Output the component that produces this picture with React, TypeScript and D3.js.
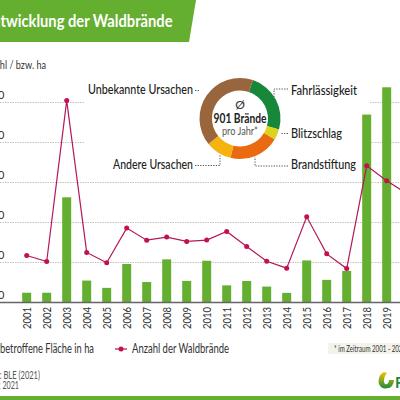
import * as d3 from 'd3';
import { useEffect, useRef } from 'react';

const years = ['2001', '2002', '2003', '2004', '2005', '2006', '2007', '2008', '2009', '2010', '2011', '2012', '2013', '2014', '2015', '2016', '2017', '2018', '2019', '2020'];
// betroffene Fläche in ha
const flaeche = [122, 122, 1315, 274, 183, 482, 256, 539, 270, 522, 214, 269, 199, 120, 526, 283, 395, 2349, 2690, 368];
// Anzahl der Waldbrände
const anzahl = [587, 513, 2524, 626, 496, 930, 779, 818, 763, 780, 888, 701, 515, 429, 1071, 608, 424, 1708, 1523, 1360];
const yTicks = [0, 500, 1000, 1500, 2000, 2500];

const ursachen = ['Fahrlässigkeit', 'Blitzschlag', 'Brandstiftung', 'Andere Ursachen', 'Unbekannte Ursachen'];
const anteile = [24.2, 4.3, 20.1, 10.4, 41];
const ursachenFarben = ['#17873a', '#dcd31c', '#e96a10', '#f6b30e', '#99653c'];

const FONT = 'Lato, sans-serif';
const GREEN = '#64ae30';
const PINK = '#b3185c';
const TEXT = '#333';

export default function App() {
  const svgRef = useRef<SVGSVGElement | null>(null);

  useEffect(() => {
    if (!svgRef.current) return;
    const svg = d3.select(svgRef.current);
    svg.selectAll('*').remove();
    svg.attr('font-family', FONT);

    const x = d3.scalePoint<string>().domain(years).range([26.7, 406.7]);
    const y = d3.scaleLinear().domain([0, 2500]).range([302.5, 102.5]);

    // schmale Schrift gibt es nicht, also auf die Breite im Original stauchen
    const label = (
      parent: d3.Selection<any, any, any, any>,
      str: string, px: number, py: number, size: number, width: number,
      opts: { anchor?: string; fill?: string; weight?: number } = {},
    ) =>
      parent.append('text')
        .attr('x', px).attr('y', py)
        .attr('text-anchor', opts.anchor ?? 'start')
        .attr('fill', opts.fill ?? TEXT)
        .attr('font-size', size)
        .attr('font-weight', opts.weight ?? 400)
        .attr('textLength', width)
        .attr('lengthAdjust', 'spacingAndGlyphs')
        .text(str);

    // Kopfzeile
    svg.append('path').attr('d', 'M0,0H196L189,42H0Z').attr('fill', GREEN);
    label(svg, 'Entwicklung der Waldbrände', -16, 27, 16.5, 188.5, { fill: '#fff', weight: 700 });
    svg.append('rect').attr('x', 0).attr('y', 396).attr('width', 400).attr('height', 4).attr('fill', GREEN);

    label(svg, 'Anzahl / bzw. ha', -20, 69, 11.5, 66);

    // Gitterlinien, oben nur links und rechts vom Kreisdiagramm
    const grid = svg.append('g')
      .attr('stroke', '#bdbdb8')
      .attr('stroke-width', 0.9)
      .attr('stroke-dasharray', '1.5 1');
    yTicks.filter(t => t > 0).forEach(t => {
      if (t >= 2000) {
        grid.append('line').attr('x1', 0).attr('x2', 84).attr('y1', y(t)).attr('y2', y(t));
        grid.append('line').attr('x1', 370).attr('x2', 400).attr('y1', y(t)).attr('y2', y(t));
      } else {
        grid.append('line').attr('x1', 0).attr('x2', 400).attr('y1', y(t)).attr('y2', y(t));
      }
    });

    svg.append('g')
      .selectAll('text')
      .data(yTicks)
      .join('text')
      .attr('x', 4.5)
      .attr('y', d => y(d) - 4)
      .attr('text-anchor', 'end')
      .attr('fill', TEXT)
      .attr('font-size', 11)
      .text(d => d3.format(',')(d).replace(',', '.'));

    // Balken
    svg.append('g')
      .attr('fill', GREEN)
      .selectAll('rect')
      .data(flaeche)
      .join('rect')
      .attr('x', (_, i) => x(years[i])! - 4.5)
      .attr('width', 9)
      .attr('y', d => y(d))
      .attr('height', d => y(0) - y(d));

    svg.append('line').attr('x1', 0).attr('x2', 400).attr('y1', y(0)).attr('y2', y(0))
      .attr('stroke', '#666').attr('stroke-width', 1.3);

    // Linie
    const line = d3.line<number>().x((_, i) => x(years[i])!).y(d => y(d));
    svg.append('path').attr('d', line(anzahl)).attr('fill', 'none').attr('stroke', PINK).attr('stroke-width', 1.2);
    svg.append('g')
      .attr('fill', '#c4104f')
      .selectAll('circle')
      .data(anzahl)
      .join('circle')
      .attr('cx', (_, i) => x(years[i])!)
      .attr('cy', d => y(d))
      .attr('r', 2.5);

    // Jahre
    svg.append('g')
      .selectAll('text')
      .data(years)
      .join('text')
      .attr('transform', d => `translate(${x(d)! + 4},307) rotate(-90)`)
      .attr('text-anchor', 'end')
      .attr('fill', TEXT)
      .attr('font-size', 11.5)
      .attr('textLength', 22)
      .attr('lengthAdjust', 'spacingAndGlyphs')
      .text(d => d);

    // Kreisdiagramm
    const pie = d3.pie<number>().sort(null).startAngle(0.325).endAngle(0.325 + 2 * Math.PI);
    const arc = d3.arc<d3.PieArcDatum<number>>().innerRadius(28).outerRadius(40.5);
    const donut = svg.append('g').attr('transform', 'translate(240,118.5)');
    donut.selectAll('path')
      .data(pie(anteile))
      .join('path')
      .attr('d', arc)
      .attr('fill', (_, i) => ursachenFarben[i]);
    donut.append('text').attr('text-anchor', 'middle').attr('y', -10).attr('font-size', 12).attr('fill', TEXT).text('Ø');
    label(donut, '901 Brände', 0, 4, 12.5, 53, { anchor: 'middle', weight: 700, fill: '#222' });
    label(donut, 'pro Jahr*', 0, 16.5, 11, 36, { anchor: 'middle', fill: '#555' });

    // Beschriftung mit gepunkteten Linien
    const labels = [
      { name: ursachen[4], x: 193, y: 94, w: 105, anchor: 'end', d: 'M195,90.5H199' },
      { name: ursachen[3], x: 193, y: 169, w: 80, anchor: 'end', d: 'M195,165.5H220V155' },
      { name: ursachen[0], x: 291, y: 94.5, w: 66, anchor: 'start', d: 'M288,89H274V97' },
      { name: ursachen[1], x: 291, y: 138, w: 51, anchor: 'start', d: 'M288,133.5H281' },
      { name: ursachen[2], x: 291, y: 169, w: 65, anchor: 'start', d: 'M288,166H255V157' },
    ];
    svg.append('g')
      .selectAll('path')
      .data(labels)
      .join('path')
      .attr('d', d => d.d)
      .attr('fill', 'none')
      .attr('stroke', '#444')
      .attr('stroke-width', 0.9)
      .attr('stroke-dasharray', '1.3 1.3');
    labels.forEach(d => label(svg, d.name, d.x, d.y, 13, d.w, { anchor: d.anchor, weight: 500, fill: '#222' }));

    // Legende
    label(svg, 'betroffene Fläche in ha', 0, 353, 12.5, 94);
    svg.append('line').attr('x1', 115).attr('x2', 127).attr('y1', 349).attr('y2', 349).attr('stroke', PINK).attr('stroke-width', 1.2);
    svg.append('circle').attr('cx', 121).attr('cy', 349).attr('r', 2.5).attr('fill', '#c4104f');
    label(svg, 'Anzahl der Waldbrände', 132, 353, 12.5, 97);

    // Fussnote, Quelle
    svg.append('rect').attr('x', 328).attr('y', 343).attr('width', 72).attr('height', 11).attr('fill', '#f3f3ec');
    label(svg, '* im Zeitraum 2001 - 2020', 334, 352, 8.5, 72);
    label(svg, 'Quelle: BLE (2021)', -22, 379, 10.5, 62, { fill: '#555' });
    label(svg, 'Stand: 2021', -19, 389, 10.5, 38, { fill: '#555' });

    // Logo
    const defs = svg.append('defs');
    const grad = defs.append('linearGradient').attr('id', 'logoGrad').attr('x1', 0).attr('y1', 0).attr('x2', 0).attr('y2', 1);
    grad.append('stop').attr('offset', 0).attr('stop-color', '#f5c400');
    grad.append('stop').attr('offset', 1).attr('stop-color', '#1c8a3a');
    svg.append('path')
      .attr('d', 'M384,372C379,374 378,380 379,384C381,389 386,389.5 391,387C393,385 394,382 394,380L389,380C389,383 387,385 385,384C383,382 384,376 387,373Z')
      .attr('fill', 'url(#logoGrad)');
    svg.append('text').attr('x', 395).attr('y', 388).attr('font-size', 15).attr('font-weight', 700).attr('fill', '#1c8a3a').text('F');
  }, []);

  return <svg ref={svgRef} width={400} height={400} viewBox="0 0 400 400" style={{ position: 'absolute', left: 0, top: 0, background: '#fff' }} />;
}
